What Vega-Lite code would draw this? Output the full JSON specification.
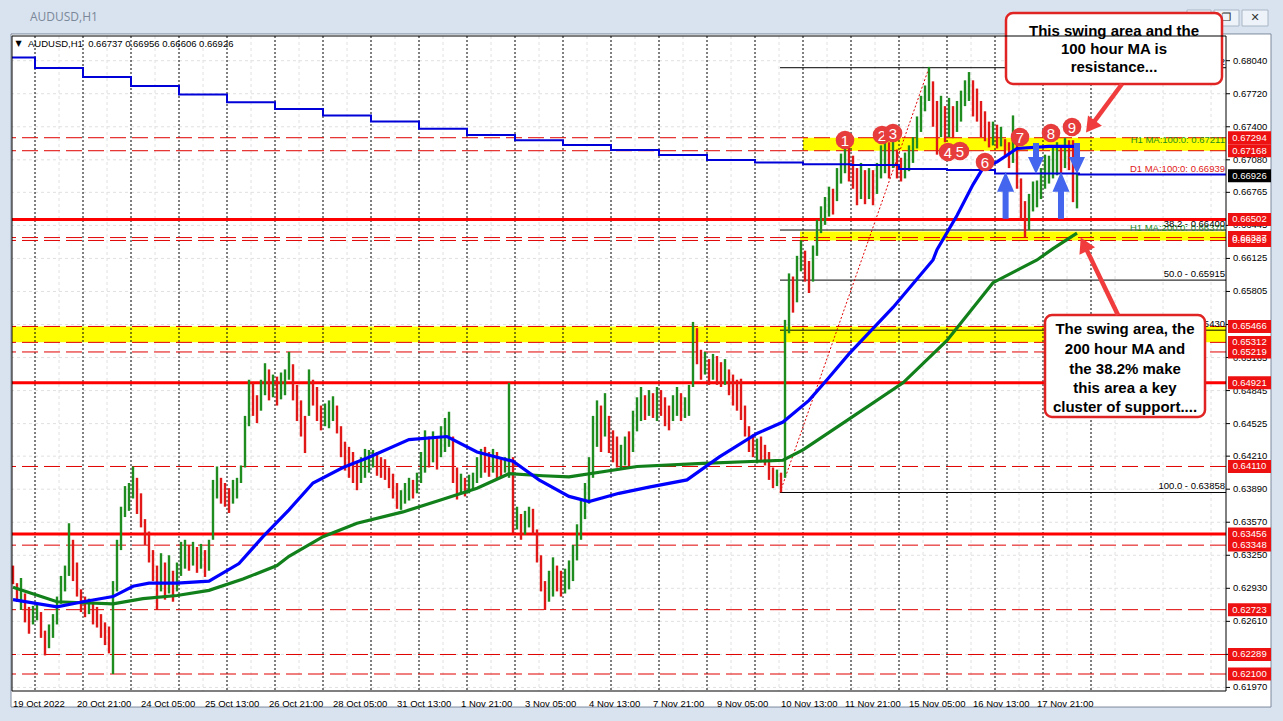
{
"$schema": "https://vega.github.io/schema/vega-lite/v6.json",
"width": 1214, "height": 655,
"autosize": {"type": "none"},
"padding": {"left": 12, "top": 36, "right": 57, "bottom": 30},
"background": "#d9e3ef",
"config": {"view": {"stroke": null}, "font": "Liberation Sans"},
"datasets": {
"win": [{"x1": -1, "x2": 629, "y1": 0.6178, "y2": 0.68299}],
"plot": [{"x1": -0.5, "x2": 606.5, "y1": 0.619354, "y2": 0.682792}],
"yticks": [{"v":0.6804},{"v":0.6772},{"v":0.674},{"v":0.6708},{"v":0.66765},{"v":0.66445},{"v":0.66125},{"v":0.65805},{"v":0.65485},{"v":0.65165},{"v":0.64845},{"v":0.64525},{"v":0.6421},{"v":0.6389},{"v":0.6357},{"v":0.6325},{"v":0.6293},{"v":0.6261},{"v":0.6229},{"v":0.6197}],
"noon": [{"i":23},{"i":47},{"i":71},{"i":95},{"i":119},{"i":143},{"i":167},{"i":191},{"i":215},{"i":239},{"i":263},{"i":287},{"i":311},{"i":335},{"i":359},{"i":383},{"i":407},{"i":431},{"i":455},{"i":479},{"i":503},{"i":527},{"i":551},{"i":575},{"i":599}],
"seps": [{"i":11},{"i":35},{"i":59},{"i":83},{"i":107},{"i":131},{"i":155},{"i":179},{"i":203},{"i":227},{"i":251},{"i":275},{"i":299},{"i":323},{"i":347},{"i":371},{"i":395},{"i":419},{"i":443},{"i":467},{"i":491},{"i":515},{"i":539}],
"bands": [{"i1":395,"i2":606.5,"lo":0.67168,"hi":0.67294},{"i1":393.5,"i2":606.5,"lo":0.66299,"hi":0.66385},{"i1":-0.5,"i2":606.5,"lo":0.65312,"hi":0.65466}],
"dashed": [{"v":0.67294},{"v":0.67168},{"v":0.66327},{"v":0.66299},{"v":0.65466},{"v":0.65312},{"v":0.65219},{"v":0.6411},{"v":0.63348},{"v":0.62723},{"v":0.62289},{"v":0.621}],
"solid": [{"v":0.66502},{"v":0.64921},{"v":0.63456}],
"fib": [{"v":0.67972,"t":"0.0 - 0.67972"},{"v":0.664,"t":"38.2 - 0.66400"},{"v":0.65915,"t":"50.0 - 0.65915"},{"v":0.6543,"t":"61.8 - 0.65430"},{"v":0.63858,"t":"100.0 - 0.63858"}],
"fibdiag": [{"i":383.5,"v":0.63858},{"i":458,"v":0.67972}],
"bars": [
{"i":0,"l":0.6297,"h":0.6315,"d":"dn"},{"i":2,"l":0.628,"h":0.6298,"d":"dn"},{"i":4,"l":0.6272,"h":0.6303,"d":"up"},{"i":6,"l":0.626,"h":0.6288,"d":"dn"},{"i":8,"l":0.6249,"h":0.6275,"d":"dn"},{"i":10,"l":0.6258,"h":0.6276,"d":"up"},{"i":12,"l":0.6262,"h":0.6278,"d":"up"},{"i":14,"l":0.6245,"h":0.627,"d":"dn"},{"i":16,"l":0.6228,"h":0.6252,"d":"dn"},{"i":18,"l":0.6235,"h":0.6258,"d":"up"},
{"i":20,"l":0.6245,"h":0.6268,"d":"up"},{"i":22,"l":0.6258,"h":0.6285,"d":"up"},{"i":24,"l":0.6278,"h":0.6305,"d":"up"},{"i":26,"l":0.629,"h":0.6315,"d":"up"},{"i":28,"l":0.6305,"h":0.6356,"d":"up"},{"i":30,"l":0.63,"h":0.634,"d":"dn"},{"i":32,"l":0.6285,"h":0.6318,"d":"dn"},{"i":34,"l":0.627,"h":0.6292,"d":"dn"},{"i":36,"l":0.6265,"h":0.6285,"d":"dn"},{"i":38,"l":0.6268,"h":0.6283,"d":"up"},
{"i":40,"l":0.6258,"h":0.628,"d":"dn"},{"i":42,"l":0.6255,"h":0.6275,"d":"dn"},{"i":44,"l":0.6245,"h":0.6268,"d":"dn"},{"i":46,"l":0.6238,"h":0.626,"d":"dn"},{"i":48,"l":0.623,"h":0.6256,"d":"dn"},{"i":50,"l":0.621,"h":0.63,"d":"up"},{"i":52,"l":0.629,"h":0.634,"d":"up"},{"i":54,"l":0.633,"h":0.6372,"d":"up"},{"i":56,"l":0.6362,"h":0.6392,"d":"up"},{"i":58,"l":0.6368,"h":0.6395,"d":"up"},
{"i":60,"l":0.638,"h":0.6411,"d":"up"},{"i":62,"l":0.6365,"h":0.64,"d":"dn"},{"i":64,"l":0.6352,"h":0.6385,"d":"dn"},{"i":66,"l":0.6335,"h":0.636,"d":"dn"},{"i":68,"l":0.6318,"h":0.6348,"d":"dn"},{"i":70,"l":0.63,"h":0.633,"d":"dn"},{"i":72,"l":0.6272,"h":0.6315,"d":"dn"},{"i":74,"l":0.629,"h":0.6327,"d":"up"},{"i":76,"l":0.6282,"h":0.6318,"d":"dn"},{"i":78,"l":0.6288,"h":0.6325,"d":"up"},
{"i":80,"l":0.628,"h":0.631,"d":"dn"},{"i":82,"l":0.629,"h":0.6318,"d":"up"},{"i":84,"l":0.6305,"h":0.6338,"d":"up"},{"i":86,"l":0.6312,"h":0.634,"d":"up"},{"i":88,"l":0.631,"h":0.6335,"d":"dn"},{"i":90,"l":0.6315,"h":0.6338,"d":"up"},{"i":92,"l":0.6308,"h":0.6333,"d":"dn"},{"i":94,"l":0.6312,"h":0.6336,"d":"up"},{"i":96,"l":0.6304,"h":0.633,"d":"dn"},{"i":98,"l":0.631,"h":0.634,"d":"up"},
{"i":100,"l":0.634,"h":0.6398,"d":"up"},{"i":102,"l":0.638,"h":0.6411,"d":"up"},{"i":104,"l":0.6375,"h":0.64,"d":"dn"},{"i":106,"l":0.6372,"h":0.6395,"d":"dn"},{"i":108,"l":0.6366,"h":0.639,"d":"dn"},{"i":110,"l":0.6375,"h":0.6398,"d":"up"},{"i":112,"l":0.638,"h":0.64,"d":"up"},{"i":114,"l":0.6395,"h":0.6412,"d":"up"},{"i":116,"l":0.641,"h":0.646,"d":"up"},{"i":118,"l":0.645,"h":0.6495,"d":"up"},
{"i":120,"l":0.646,"h":0.6492,"d":"dn"},{"i":122,"l":0.6453,"h":0.648,"d":"dn"},{"i":124,"l":0.6465,"h":0.6495,"d":"up"},{"i":126,"l":0.648,"h":0.6511,"d":"up"},{"i":128,"l":0.6475,"h":0.6505,"d":"dn"},{"i":130,"l":0.6478,"h":0.65,"d":"up"},{"i":132,"l":0.647,"h":0.6498,"d":"dn"},{"i":134,"l":0.6476,"h":0.6502,"d":"up"},{"i":136,"l":0.648,"h":0.6505,"d":"up"},{"i":138,"l":0.6495,"h":0.6522,"d":"up"},
{"i":140,"l":0.6475,"h":0.651,"d":"dn"},{"i":142,"l":0.6455,"h":0.649,"d":"dn"},{"i":144,"l":0.644,"h":0.6475,"d":"dn"},{"i":146,"l":0.6424,"h":0.646,"d":"dn"},{"i":148,"l":0.646,"h":0.6505,"d":"up"},{"i":150,"l":0.647,"h":0.6495,"d":"dn"},{"i":152,"l":0.6455,"h":0.6488,"d":"dn"},{"i":154,"l":0.6446,"h":0.647,"d":"dn"},{"i":156,"l":0.645,"h":0.6472,"d":"up"},{"i":158,"l":0.6448,"h":0.6475,"d":"up"},
{"i":160,"l":0.6455,"h":0.6479,"d":"up"},{"i":162,"l":0.6443,"h":0.647,"d":"dn"},{"i":164,"l":0.642,"h":0.645,"d":"dn"},{"i":166,"l":0.6407,"h":0.6435,"d":"dn"},{"i":168,"l":0.64,"h":0.643,"d":"dn"},{"i":170,"l":0.6395,"h":0.6425,"d":"dn"},{"i":172,"l":0.6388,"h":0.6415,"d":"dn"},{"i":174,"l":0.6395,"h":0.642,"d":"up"},{"i":176,"l":0.64,"h":0.6428,"d":"up"},{"i":178,"l":0.6405,"h":0.6427,"d":"up"},
{"i":180,"l":0.641,"h":0.6427,"d":"up"},{"i":182,"l":0.6402,"h":0.6425,"d":"dn"},{"i":184,"l":0.64,"h":0.642,"d":"dn"},{"i":186,"l":0.6398,"h":0.6418,"d":"dn"},{"i":188,"l":0.639,"h":0.641,"d":"dn"},{"i":190,"l":0.638,"h":0.6404,"d":"dn"},{"i":192,"l":0.637,"h":0.6395,"d":"dn"},{"i":194,"l":0.6369,"h":0.6388,"d":"up"},{"i":196,"l":0.6375,"h":0.6395,"d":"up"},{"i":198,"l":0.6378,"h":0.64,"d":"up"},
{"i":200,"l":0.638,"h":0.6398,"d":"dn"},{"i":202,"l":0.6385,"h":0.6405,"d":"up"},{"i":204,"l":0.6395,"h":0.6425,"d":"up"},{"i":206,"l":0.6405,"h":0.6446,"d":"up"},{"i":208,"l":0.641,"h":0.644,"d":"dn"},{"i":210,"l":0.6415,"h":0.6445,"d":"up"},{"i":212,"l":0.6408,"h":0.644,"d":"dn"},{"i":214,"l":0.642,"h":0.645,"d":"up"},{"i":216,"l":0.6425,"h":0.6458,"d":"up"},{"i":218,"l":0.643,"h":0.6464,"d":"up"},
{"i":220,"l":0.6395,"h":0.644,"d":"dn"},{"i":222,"l":0.6379,"h":0.641,"d":"dn"},{"i":224,"l":0.6385,"h":0.6404,"d":"up"},{"i":226,"l":0.6382,"h":0.64,"d":"dn"},{"i":228,"l":0.6385,"h":0.6403,"d":"up"},{"i":230,"l":0.6388,"h":0.6405,"d":"up"},{"i":232,"l":0.6395,"h":0.642,"d":"up"},{"i":234,"l":0.64,"h":0.6428,"d":"up"},{"i":236,"l":0.6405,"h":0.643,"d":"dn"},{"i":238,"l":0.6401,"h":0.6425,"d":"dn"},
{"i":240,"l":0.6405,"h":0.6428,"d":"up"},{"i":242,"l":0.6398,"h":0.6425,"d":"dn"},{"i":244,"l":0.64,"h":0.6418,"d":"dn"},{"i":246,"l":0.6405,"h":0.642,"d":"up"},{"i":248,"l":0.64,"h":0.6492,"d":"up"},{"i":250,"l":0.6346,"h":0.642,"d":"dn"},{"i":252,"l":0.635,"h":0.6372,"d":"up"},{"i":254,"l":0.634,"h":0.6365,"d":"dn"},{"i":256,"l":0.6345,"h":0.6368,"d":"up"},{"i":258,"l":0.6352,"h":0.6372,"d":"up"},
{"i":260,"l":0.6345,"h":0.637,"d":"dn"},{"i":262,"l":0.6318,"h":0.635,"d":"dn"},{"i":264,"l":0.629,"h":0.6325,"d":"dn"},{"i":266,"l":0.6272,"h":0.63,"d":"dn"},{"i":268,"l":0.628,"h":0.631,"d":"up"},{"i":270,"l":0.6285,"h":0.6323,"d":"up"},{"i":272,"l":0.629,"h":0.6315,"d":"dn"},{"i":274,"l":0.6285,"h":0.631,"d":"dn"},{"i":276,"l":0.6288,"h":0.6312,"d":"up"},{"i":278,"l":0.6292,"h":0.632,"d":"up"},
{"i":280,"l":0.63,"h":0.6335,"d":"up"},{"i":282,"l":0.632,"h":0.6355,"d":"up"},{"i":284,"l":0.634,"h":0.6378,"d":"up"},{"i":286,"l":0.636,"h":0.6395,"d":"up"},{"i":288,"l":0.6375,"h":0.642,"d":"up"},{"i":290,"l":0.64,"h":0.646,"d":"up"},{"i":292,"l":0.643,"h":0.6475,"d":"up"},{"i":294,"l":0.6425,"h":0.647,"d":"dn"},{"i":296,"l":0.644,"h":0.6482,"d":"up"},{"i":298,"l":0.6424,"h":0.646,"d":"dn"},
{"i":300,"l":0.6415,"h":0.6446,"d":"dn"},{"i":302,"l":0.641,"h":0.644,"d":"dn"},{"i":304,"l":0.6408,"h":0.6432,"d":"up"},{"i":306,"l":0.6412,"h":0.644,"d":"up"},{"i":308,"l":0.641,"h":0.6445,"d":"dn"},{"i":310,"l":0.6425,"h":0.6465,"d":"up"},{"i":312,"l":0.6445,"h":0.6478,"d":"up"},{"i":314,"l":0.6455,"h":0.6488,"d":"up"},{"i":316,"l":0.6456,"h":0.648,"d":"dn"},{"i":318,"l":0.646,"h":0.6485,"d":"up"},
{"i":320,"l":0.6458,"h":0.6482,"d":"dn"},{"i":322,"l":0.6455,"h":0.6488,"d":"up"},{"i":324,"l":0.646,"h":0.6485,"d":"dn"},{"i":326,"l":0.645,"h":0.6478,"d":"dn"},{"i":328,"l":0.6446,"h":0.647,"d":"dn"},{"i":330,"l":0.6455,"h":0.648,"d":"up"},{"i":332,"l":0.646,"h":0.6488,"d":"up"},{"i":334,"l":0.6455,"h":0.6482,"d":"dn"},{"i":336,"l":0.6458,"h":0.6478,"d":"up"},{"i":338,"l":0.646,"h":0.649,"d":"up"},
{"i":340,"l":0.6488,"h":0.6551,"d":"up"},{"i":342,"l":0.651,"h":0.6545,"d":"dn"},{"i":344,"l":0.6495,"h":0.6524,"d":"dn"},{"i":346,"l":0.65,"h":0.6522,"d":"up"},{"i":348,"l":0.649,"h":0.6515,"d":"dn"},{"i":350,"l":0.6495,"h":0.652,"d":"up"},{"i":352,"l":0.649,"h":0.6518,"d":"dn"},{"i":354,"l":0.6488,"h":0.6512,"d":"dn"},{"i":356,"l":0.649,"h":0.6515,"d":"up"},{"i":358,"l":0.648,"h":0.6505,"d":"dn"},
{"i":360,"l":0.647,"h":0.65,"d":"dn"},{"i":362,"l":0.6465,"h":0.6495,"d":"dn"},{"i":364,"l":0.6456,"h":0.6496,"d":"dn"},{"i":366,"l":0.644,"h":0.647,"d":"dn"},{"i":368,"l":0.6425,"h":0.645,"d":"dn"},{"i":370,"l":0.642,"h":0.6442,"d":"dn"},{"i":372,"l":0.6414,"h":0.6438,"d":"up"},{"i":374,"l":0.6415,"h":0.644,"d":"dn"},{"i":376,"l":0.6412,"h":0.6432,"d":"dn"},{"i":378,"l":0.6398,"h":0.6425,"d":"dn"},
{"i":380,"l":0.639,"h":0.641,"d":"dn"},{"i":382,"l":0.6392,"h":0.6408,"d":"up"},{"i":384,"l":0.6386,"h":0.6405,"d":"dn"},{"i":386,"l":0.64,"h":0.6553,"d":"up"},{"i":388,"l":0.654,"h":0.6598,"d":"up"},{"i":390,"l":0.656,"h":0.6595,"d":"dn"},{"i":392,"l":0.657,"h":0.6615,"d":"up"},{"i":394,"l":0.66,"h":0.663,"d":"up"},{"i":396,"l":0.659,"h":0.662,"d":"dn"},{"i":398,"l":0.6579,"h":0.661,"d":"dn"},
{"i":400,"l":0.659,"h":0.6625,"d":"up"},{"i":402,"l":0.6615,"h":0.665,"d":"up"},{"i":404,"l":0.6637,"h":0.6663,"d":"up"},{"i":406,"l":0.6645,"h":0.6672,"d":"up"},{"i":408,"l":0.6653,"h":0.6682,"d":"up"},{"i":410,"l":0.6655,"h":0.668,"d":"dn"},{"i":412,"l":0.6668,"h":0.67,"d":"up"},{"i":414,"l":0.6685,"h":0.6714,"d":"up"},{"i":416,"l":0.6695,"h":0.6729,"d":"up"},{"i":418,"l":0.6687,"h":0.672,"d":"dn"},
{"i":420,"l":0.668,"h":0.6712,"d":"dn"},{"i":422,"l":0.6664,"h":0.67,"d":"dn"},{"i":424,"l":0.667,"h":0.6705,"d":"up"},{"i":426,"l":0.6665,"h":0.6698,"d":"dn"},{"i":428,"l":0.667,"h":0.67,"d":"up"},{"i":430,"l":0.6664,"h":0.6698,"d":"dn"},{"i":432,"l":0.6675,"h":0.6705,"d":"up"},{"i":434,"l":0.669,"h":0.6722,"d":"up"},{"i":436,"l":0.6695,"h":0.6729,"d":"up"},{"i":438,"l":0.669,"h":0.6725,"d":"dn"},
{"i":440,"l":0.67,"h":0.6735,"d":"up"},{"i":442,"l":0.669,"h":0.6718,"d":"dn"},{"i":444,"l":0.6687,"h":0.671,"d":"dn"},{"i":446,"l":0.669,"h":0.6715,"d":"up"},{"i":448,"l":0.6697,"h":0.6722,"d":"up"},{"i":450,"l":0.6705,"h":0.673,"d":"up"},{"i":452,"l":0.6719,"h":0.675,"d":"up"},{"i":454,"l":0.6735,"h":0.677,"d":"up"},{"i":456,"l":0.6755,"h":0.678,"d":"up"},{"i":458,"l":0.6765,"h":0.6798,"d":"up"},
{"i":460,"l":0.674,"h":0.6784,"d":"dn"},{"i":462,"l":0.6713,"h":0.6765,"d":"dn"},{"i":464,"l":0.673,"h":0.677,"d":"up"},{"i":466,"l":0.6725,"h":0.676,"d":"dn"},{"i":468,"l":0.673,"h":0.6768,"d":"up"},{"i":470,"l":0.6729,"h":0.676,"d":"dn"},{"i":472,"l":0.6735,"h":0.6765,"d":"up"},{"i":474,"l":0.6745,"h":0.6775,"d":"up"},{"i":476,"l":0.676,"h":0.6785,"d":"up"},{"i":478,"l":0.6765,"h":0.6793,"d":"up"},
{"i":480,"l":0.675,"h":0.6785,"d":"dn"},{"i":482,"l":0.6745,"h":0.6777,"d":"dn"},{"i":484,"l":0.673,"h":0.6765,"d":"dn"},{"i":486,"l":0.6726,"h":0.6755,"d":"dn"},{"i":488,"l":0.672,"h":0.6745,"d":"dn"},{"i":490,"l":0.6722,"h":0.6745,"d":"up"},{"i":492,"l":0.6719,"h":0.6742,"d":"dn"},{"i":494,"l":0.6721,"h":0.674,"d":"up"},{"i":496,"l":0.671,"h":0.6728,"d":"dn"},{"i":498,"l":0.67,"h":0.6725,"d":"dn"},
{"i":500,"l":0.6705,"h":0.6751,"d":"up"},{"i":502,"l":0.668,"h":0.6735,"d":"dn"},{"i":504,"l":0.665,"h":0.669,"d":"dn"},{"i":506,"l":0.6633,"h":0.6668,"d":"dn"},{"i":508,"l":0.664,"h":0.6675,"d":"up"},{"i":510,"l":0.6658,"h":0.6687,"d":"up"},{"i":512,"l":0.6662,"h":0.6688,"d":"up"},{"i":514,"l":0.667,"h":0.67,"d":"up"},{"i":516,"l":0.668,"h":0.6713,"d":"up"},{"i":518,"l":0.6685,"h":0.6712,"d":"up"},
{"i":520,"l":0.669,"h":0.672,"d":"up"},{"i":522,"l":0.6693,"h":0.6725,"d":"up"},{"i":524,"l":0.6695,"h":0.6722,"d":"dn"},{"i":526,"l":0.67,"h":0.6729,"d":"up"},{"i":528,"l":0.6698,"h":0.6727,"d":"dn"},{"i":530,"l":0.6667,"h":0.6727,"d":"dn"},{"i":532,"l":0.6661,"h":0.6696,"d":"up"}],
"d1": [{"i":-0.5,"v":0.6807},{"i":11,"v":0.6797},{"i":35,"v":0.67883},{"i":59,"v":0.67796},{"i":83,"v":0.67713},{"i":107,"v":0.67637},{"i":131,"v":0.67573},{"i":155,"v":0.6751},{"i":179,"v":0.6745},{"i":203,"v":0.6738},{"i":227,"v":0.6732},{"i":251,"v":0.6727},{"i":275,"v":0.67224},{"i":299,"v":0.67175},{"i":323,"v":0.67127},{"i":347,"v":0.67078},{"i":371,"v":0.67053},{"i":395,"v":0.67036},{"i":419,"v":0.67029},{"i":443,"v":0.6699},{"i":467,"v":0.66981},{"i":491,"v":0.66948},{"i":533,"v":0.66939},{"i":606.5,"v":0.66939}],
"ma100": [{"i":0,"v":0.6282},{"i":22,"v":0.6275},{"i":35,"v":0.628},{"i":50,"v":0.6285},{"i":60,"v":0.6295},{"i":68,"v":0.6298},{"i":82,"v":0.6298},{"i":98,"v":0.63},{"i":113,"v":0.6317},{"i":125,"v":0.6343},{"i":138,"v":0.6369},{"i":150,"v":0.6395},{"i":165,"v":0.641},{"i":178,"v":0.642},{"i":198,"v":0.6437},{"i":217,"v":0.644},{"i":232,"v":0.6425},{"i":250,"v":0.6416},{"i":263,"v":0.6398},{"i":278,"v":0.6382},{"i":288,"v":0.6377},{"i":303,"v":0.6385},{"i":318,"v":0.6391},{"i":337,"v":0.6398},{"i":353,"v":0.642},{"i":372,"v":0.6443},{"i":385,"v":0.6454},{"i":398,"v":0.6475},{"i":407,"v":0.6495},{"i":418,"v":0.652},{"i":440,"v":0.6565},{"i":460,"v":0.6611},{"i":462,"v":0.6621},{"i":472,"v":0.6654},{"i":480,"v":0.6684},{"i":485,"v":0.67},{"i":492,"v":0.6706},{"i":502,"v":0.6719},{"i":518,"v":0.6721},{"i":532,"v":0.67211}],
"ma200": [{"i":0,"v":0.6294},{"i":22,"v":0.628},{"i":35,"v":0.6279},{"i":50,"v":0.6278},{"i":65,"v":0.6283},{"i":82,"v":0.6286},{"i":98,"v":0.6291},{"i":115,"v":0.6302},{"i":132,"v":0.6315},{"i":138,"v":0.6324},{"i":155,"v":0.6343},{"i":172,"v":0.6356},{"i":195,"v":0.6367},{"i":213,"v":0.6378},{"i":232,"v":0.639},{"i":248,"v":0.6404},{"i":265,"v":0.6402},{"i":278,"v":0.6401},{"i":312,"v":0.6411},{"i":345,"v":0.6414},{"i":385,"v":0.6417},{"i":395,"v":0.6427},{"i":415,"v":0.6453},{"i":445,"v":0.6492},{"i":467,"v":0.6533},{"i":490,"v":0.6589},{"i":512,"v":0.6611},{"i":520,"v":0.6622},{"i":532,"v":0.6637}],
"malabels": [{"t":"H1 MA:100:0: 0.67211","v":0.67272,"s":"h100"},{"t":"D1 MA:100:0: 0.66939","v":0.66991,"s":"d1"},{"t":"H1 MA:200:0: 0.66370","v":0.66418,"s":"h200"}],
"boxes": [{"i1":496.5,"i2":604.5,"lo":0.67814,"hi":0.68502},{"i1":516,"i2":596,"lo":0.64589,"hi":0.65577}],
"notes": [{"i":550.5,"v":0.68328,"t":"This swing area and the"},{"i":550.5,"v":0.68153,"t":"100 hour MA is"},{"i":550.5,"v":0.67979,"t":"resistance..."},{"i":556,"v":0.65441,"t":"The swing area, the"},{"i":556,"v":0.65248,"t":"200 hour MA and"},{"i":556,"v":0.65054,"t":"the 38.2% make"},{"i":556,"v":0.6487,"t":"this area a key"},{"i":556,"v":0.64686,"t":"cluster of support...."}],
"redarrows": [{"i":554.5,"v":0.67814,"i2":538.75,"v2":0.67402},{"i":552.5,"v":0.65577,"i2":535.5,"v2":0.66262}],
"head1": [{"i":538.75,"v":0.67402}],
"head2": [{"i":535.5,"v":0.66262}],
"uparrows": [{"i":496.3,"v":0.66736},{"i":524,"v":0.66736}],
"downarrows": [{"i":511.5,"v":0.67092},{"i":532,"v":0.67092}],
"markers": [{"n":"1","i":416,"v":0.67272},{"n":"2","i":434.5,"v":0.6732},{"n":"3","i":440,"v":0.6734},{"n":"4","i":467.5,"v":0.67156},{"n":"5","i":473.5,"v":0.67165},{"n":"6","i":486,"v":0.67059},{"n":"7","i":503.5,"v":0.67301},{"n":"8","i":519,"v":0.6734},{"n":"9","i":529.5,"v":0.67398}],
"xlabels": [{"i":0,"t":"19 Oct 2022"},{"i":32,"t":"20 Oct 21:00"},{"i":64,"t":"24 Oct 05:00"},{"i":96,"t":"25 Oct 13:00"},{"i":128,"t":"26 Oct 21:00"},{"i":160,"t":"28 Oct 05:00"},{"i":192,"t":"31 Oct 13:00"},{"i":224,"t":"1 Nov 21:00"},{"i":256,"t":"3 Nov 05:00"},{"i":288,"t":"4 Nov 13:00"},{"i":320,"t":"7 Nov 21:00"},{"i":352,"t":"9 Nov 05:00"},{"i":384,"t":"10 Nov 13:00"},{"i":416,"t":"11 Nov 21:00"},{"i":448,"t":"15 Nov 05:00"},{"i":480,"t":"16 Nov 13:00"},{"i":512,"t":"17 Nov 21:00"}],
"redlabels": [{"v":0.67294},{"v":0.67168},{"v":0.66502},{"v":0.66327},{"v":0.66299},{"v":0.65466},{"v":0.65312},{"v":0.65219},{"v":0.64921},{"v":0.6411},{"v":0.63456},{"v":0.63348},{"v":0.62723},{"v":0.62289},{"v":0.621}],
"cur": [{"v":0.66926}],
"info": [{"i":7.5,"v":0.68202,"t":"AUDUSD,H1\u00a0 0.66737 0.66956 0.66606 0.66926"}],
"tri": [{"i":2.75,"v":0.68202,"t":"▼"}],
"wintitle": [{"i":8.5,"v":0.68463,"t":"AUDUSD,H1"}],
"buttons": [{"i1":587,"i2":599,"c":593,"t":"—"},{"i1":600.5,"i2":613,"c":606.75,"t":"❐"},{"i1":614.5,"i2":627.5,"c":621,"t":"✕"}]
},
"layer": [
{"data":{"name":"win"},"mark":{"type":"rect","fill":"white","stroke":"#7d8a9c","strokeWidth":1},
 "encoding":{"x":{"field":"x1","type":"quantitative","scale":{"domain":[-0.5,606.5],"nice":false,"zero":false},"axis":null},"x2":{"field":"x2"},
 "y":{"field":"y1","type":"quantitative","scale":{"domain":[0.619354,0.682792],"nice":false,"zero":false},"axis":null},"y2":{"field":"y2"}}},
{"data":{"name":"buttons"},"mark":{"type":"rect","fill":"#eef3f9","stroke":"#a9b6c7","strokeWidth":1},
 "encoding":{"x":{"field":"i1","type":"quantitative","axis":null},"x2":{"field":"i2"},"y":{"datum":0.68376,"type":"quantitative","axis":null},"y2":{"datum":0.68531}}},
{"data":{"name":"buttons"},"mark":{"type":"text","fontSize":11,"color":"#333","font":"DejaVu Sans","align":"center","baseline":"middle"},
 "encoding":{"x":{"field":"c","type":"quantitative","axis":null},"y":{"datum":0.68453,"type":"quantitative","axis":null},"text":{"field":"t"}}},
{"data":{"name":"wintitle"},"mark":{"type":"text","fontSize":12,"font":"Open Sans","color":"#7a8799","align":"left","baseline":"middle"},
 "encoding":{"x":{"field":"i","type":"quantitative","axis":null},"y":{"field":"v","type":"quantitative","axis":null},"text":{"field":"t"}}},
{"data":{"name":"yticks"},"mark":{"type":"rule","color":"#e0e0e0","strokeDash":[3,3],"strokeWidth":1},
 "encoding":{"y":{"field":"v","type":"quantitative","axis":null}}},
{"data":{"name":"noon"},"mark":{"type":"rule","color":"#e0e0e0","strokeDash":[3,3],"strokeWidth":1},
 "encoding":{"x":{"field":"i","type":"quantitative","axis":null}}},
{"data":{"name":"bands"},"mark":{"type":"rect","fill":"#ffff00"},
 "encoding":{"x":{"field":"i1","type":"quantitative","axis":null},"x2":{"field":"i2"},"y":{"field":"lo","type":"quantitative","axis":null},"y2":{"field":"hi"}}},
{"data":{"name":"seps"},"mark":{"type":"rule","color":"#000000","strokeDash":[2,2],"strokeWidth":1},
 "encoding":{"x":{"field":"i","type":"quantitative","axis":null}}},
{"data":{"name":"dashed"},"mark":{"type":"rule","color":"#e00000","strokeDash":[16,6],"strokeWidth":1},
 "encoding":{"y":{"field":"v","type":"quantitative","axis":null}}},
{"data":{"name":"solid"},"mark":{"type":"rule","color":"#ff0000","strokeWidth":3},
 "encoding":{"y":{"field":"v","type":"quantitative","axis":null}}},
{"data":{"name":"fib"},"mark":{"type":"rule","color":"#000000","strokeWidth":1},
 "encoding":{"y":{"field":"v","type":"quantitative","axis":null},"x":{"datum":383.5,"type":"quantitative","axis":null},"x2":{"datum":606.5}}},
{"data":{"name":"fibdiag"},"mark":{"type":"line","color":"#e00000","strokeDash":[2,2],"strokeWidth":1},
 "encoding":{"x":{"field":"i","type":"quantitative","axis":null},"y":{"field":"v","type":"quantitative","axis":null}}},
{"data":{"name":"bars"},"mark":{"type":"rule","strokeWidth":2.4},
 "encoding":{"x":{"field":"i","type":"quantitative","axis":null},"y":{"field":"l","type":"quantitative","axis":null},"y2":{"field":"h"},
 "color":{"field":"d","type":"nominal","scale":{"domain":["up","dn"],"range":["#1f8c1f","#e01818"]},"legend":null}}},
{"data":{"name":"d1"},"mark":{"type":"line","color":"#0000d8","strokeWidth":2,"interpolate":"step-after"},
 "encoding":{"x":{"field":"i","type":"quantitative","axis":null},"y":{"field":"v","type":"quantitative","axis":null}}},
{"data":{"name":"ma200"},"mark":{"type":"line","color":"#11801a","strokeWidth":3.2},
 "encoding":{"x":{"field":"i","type":"quantitative","axis":null},"y":{"field":"v","type":"quantitative","axis":null}}},
{"mark":{"type":"rule","color":"#11801a","strokeWidth":1.5},
 "encoding":{"x":{"datum":532,"type":"quantitative","axis":null},"x2":{"datum":606.5},"y":{"datum":0.6637,"type":"quantitative","axis":null}}},
{"data":{"name":"ma100"},"mark":{"type":"line","color":"#0000ff","strokeWidth":3.2},
 "encoding":{"x":{"field":"i","type":"quantitative","axis":null},"y":{"field":"v","type":"quantitative","axis":null}}},
{"mark":{"type":"rule","color":"#000000","strokeWidth":1.5},
 "encoding":{"x":{"datum":531,"type":"quantitative","axis":null},"x2":{"datum":606.5},"y":{"datum":0.67211,"type":"quantitative","axis":null}}},
{"data":{"name":"malabels"},"mark":{"type":"text","fontSize":9.5,"align":"right","baseline":"middle"},
 "encoding":{"x":{"datum":606,"type":"quantitative","axis":null},"y":{"field":"v","type":"quantitative","axis":null},"text":{"field":"t"},
 "color":{"field":"s","type":"nominal","scale":{"domain":["h100","d1","h200"],"range":["#0000c8","#0000c8","#1a8a1a"]},"legend":null}}},
{"data":{"name":"fib"},"mark":{"type":"text","fontSize":9.5,"align":"right","baseline":"bottom","dy":-1,"color":"#000"},
 "encoding":{"x":{"datum":606,"type":"quantitative","axis":null},"y":{"field":"v","type":"quantitative","axis":null},"text":{"field":"t"}}},
{"data":{"name":"boxes"},"mark":{"type":"rect","fill":"white","stroke":"#e02424","strokeWidth":2.5,"cornerRadius":7},
 "encoding":{"x":{"field":"i1","type":"quantitative","axis":null},"x2":{"field":"i2"},"y":{"field":"lo","type":"quantitative","axis":null},"y2":{"field":"hi"}}},
{"data":{"name":"notes"},"mark":{"type":"text","fontSize":15,"fontWeight":"bold","align":"center","baseline":"middle","color":"#000"},
 "encoding":{"x":{"field":"i","type":"quantitative","axis":null},"y":{"field":"v","type":"quantitative","axis":null},"text":{"field":"t"}}},
{"data":{"name":"redarrows"},"mark":{"type":"rule","color":"#f03c3c","strokeWidth":4.5},
 "encoding":{"x":{"field":"i","type":"quantitative","axis":null},"y":{"field":"v","type":"quantitative","axis":null},"x2":{"field":"i2"},"y2":{"field":"v2"}}},
{"data":{"name":"head1"},"mark":{"type":"point","shape":"triangle-up","filled":true,"size":300,"angle":216.5,"color":"#f03c3c","opacity":1},
 "encoding":{"x":{"field":"i","type":"quantitative","axis":null},"y":{"field":"v","type":"quantitative","axis":null}}},
{"data":{"name":"head2"},"mark":{"type":"point","shape":"triangle-up","filled":true,"size":300,"angle":334.3,"color":"#f03c3c","opacity":1},
 "encoding":{"x":{"field":"i","type":"quantitative","axis":null},"y":{"field":"v","type":"quantitative","axis":null}}},
{"data":{"name":"uparrows"},"mark":{"type":"point","shape":"M0,-1L0.362,-0.149L0.128,-0.149L0.128,1L-0.128,1L-0.128,-0.149L-0.362,-0.149Z","filled":true,"size":2209,"color":"#4466ee","opacity":1},
 "encoding":{"x":{"field":"i","type":"quantitative","axis":null},"y":{"field":"v","type":"quantitative","axis":null}}},
{"data":{"name":"downarrows"},"mark":{"type":"point","shape":"M0,1L0.516,-0.097L0.194,-0.097L0.194,-1L-0.194,-1L-0.194,-0.097L-0.516,-0.097Z","filled":true,"size":961,"color":"#4466ee","opacity":1},
 "encoding":{"x":{"field":"i","type":"quantitative","axis":null},"y":{"field":"v","type":"quantitative","axis":null}}},
{"data":{"name":"markers"},"transform":[{"filter":"datum.n == '2' || datum.n == '4'"}],"mark":{"type":"point","shape":"circle","filled":true,"size":346,"color":"#e63c3c","opacity":1},
 "encoding":{"x":{"field":"i","type":"quantitative","axis":null},"y":{"field":"v","type":"quantitative","axis":null}}},
{"data":{"name":"markers"},"transform":[{"filter":"datum.n == '2' || datum.n == '4'"}],"mark":{"type":"text","fontSize":15,"color":"white","align":"center","baseline":"middle","dy":1},
 "encoding":{"x":{"field":"i","type":"quantitative","axis":null},"y":{"field":"v","type":"quantitative","axis":null},"text":{"field":"n"}}},
{"data":{"name":"markers"},"transform":[{"filter":"datum.n != '2' && datum.n != '4'"}],"mark":{"type":"point","shape":"circle","filled":true,"size":346,"color":"#e63c3c","opacity":1},
 "encoding":{"x":{"field":"i","type":"quantitative","axis":null},"y":{"field":"v","type":"quantitative","axis":null}}},
{"data":{"name":"markers"},"transform":[{"filter":"datum.n != '2' && datum.n != '4'"}],"mark":{"type":"text","fontSize":15,"color":"white","align":"center","baseline":"middle","dy":1},
 "encoding":{"x":{"field":"i","type":"quantitative","axis":null},"y":{"field":"v","type":"quantitative","axis":null},"text":{"field":"n"}}},
{"data":{"name":"yticks"},"mark":{"type":"rule","color":"#000","strokeWidth":1},
 "encoding":{"x":{"datum":606.5,"type":"quantitative","axis":null},"x2":{"datum":608.5},"y":{"field":"v","type":"quantitative","axis":null}}},
{"data":{"name":"yticks"},"mark":{"type":"text","fontSize":9.5,"align":"left","baseline":"middle","color":"#000"},
 "encoding":{"x":{"datum":610,"type":"quantitative","axis":null},"y":{"field":"v","type":"quantitative","axis":null},"text":{"field":"v","type":"quantitative","format":".5f"}}},
{"data":{"name":"xlabels"},"mark":{"type":"text","fontSize":9.5,"align":"left","baseline":"middle","color":"#000"},
 "encoding":{"x":{"field":"i","type":"quantitative","axis":null},"y":{"datum":0.61814,"type":"quantitative","axis":null},"text":{"field":"t"}}},
{"data":{"name":"redlabels"},"mark":{"type":"point","shape":"M-1,-0.3L1,-0.3L1,0.3L-1,0.3Z","filled":true,"size":1849,"color":"#ee1111","opacity":1},
 "encoding":{"x":{"datum":618.25,"type":"quantitative","axis":null},"y":{"field":"v","type":"quantitative","axis":null}}},
{"data":{"name":"redlabels"},"mark":{"type":"text","fontSize":9.5,"align":"center","baseline":"middle","color":"white"},
 "encoding":{"x":{"datum":618.25,"type":"quantitative","axis":null},"y":{"field":"v","type":"quantitative","axis":null},"text":{"field":"v","type":"quantitative","format":".5f"}}},
{"data":{"name":"cur"},"mark":{"type":"point","shape":"M-1,-0.3L1,-0.3L1,0.3L-1,0.3Z","filled":true,"size":1849,"color":"#000000","opacity":1},
 "encoding":{"x":{"datum":618.25,"type":"quantitative","axis":null},"y":{"field":"v","type":"quantitative","axis":null}}},
{"data":{"name":"cur"},"mark":{"type":"text","fontSize":9.5,"align":"center","baseline":"middle","color":"white"},
 "encoding":{"x":{"datum":618.25,"type":"quantitative","axis":null},"y":{"field":"v","type":"quantitative","axis":null},"text":{"field":"v","type":"quantitative","format":".5f"}}},
{"data":{"name":"plot"},"mark":{"type":"rect","fillOpacity":0,"stroke":"#000000","strokeWidth":1},
 "encoding":{"x":{"field":"x1","type":"quantitative","axis":null},"x2":{"field":"x2"},"y":{"field":"y1","type":"quantitative","axis":null},"y2":{"field":"y2"}}},
{"data":{"name":"tri"},"mark":{"type":"text","fontSize":8,"font":"DejaVu Sans","align":"center","baseline":"middle","color":"#000"},
 "encoding":{"x":{"field":"i","type":"quantitative","axis":null},"y":{"field":"v","type":"quantitative","axis":null},"text":{"field":"t"}}},
{"data":{"name":"info"},"mark":{"type":"text","fontSize":9.5,"align":"left","baseline":"middle","color":"#000"},
 "encoding":{"x":{"field":"i","type":"quantitative","axis":null},"y":{"field":"v","type":"quantitative","axis":null},"text":{"field":"t"}}}
]
}
